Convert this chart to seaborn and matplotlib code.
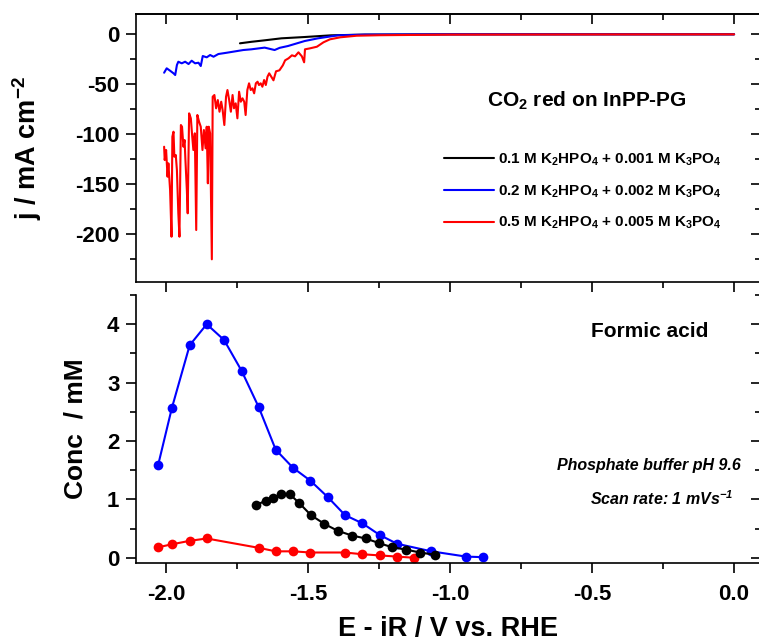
import matplotlib
matplotlib.use("Agg")
import matplotlib.pyplot as plt
from matplotlib.ticker import MultipleLocator
import seaborn as sns

# ── data: current density (top panel) ───────────────────────────────────────
black_E = [-1.74, -1.70, -1.653, -1.594, -1.512, -1.419, -1.30, -1.0, -0.5, 0.0]
black_j = [-9, -7.5, -6, -4, -2.7, -1, -0.3, 0, 0, 0]

blue_E = [-2.007, -1.998, -1.986, -1.974, -1.968, -1.962, -1.957, -1.945, -1.933,
          -1.921, -1.910, -1.898, -1.886, -1.878, -1.871, -1.857, -1.845, -1.833,
          -1.816, -1.786, -1.728, -1.70, -1.653, -1.618, -1.60, -1.571, -1.512,
          -1.465, -1.395, -1.30, -1.0, -0.5, 0.0]
blue_j = [-38.4, -34, -36.4, -39, -40.7, -30.7, -27.4, -29, -27.4,
          -29.7, -26.4, -29, -28.4, -31.7, -21.7, -23, -20.7, -22.4,
          -19.7, -18.4, -15.7, -15, -13.3, -15.7, -13.5, -11.7, -6.7,
          -4, -1, -0.3, 0, 0, 0]

red_E = [-2.007, -2.005, -2.000, -1.995, -1.992, -1.986, -1.981, -1.978, -1.974,
         -1.971, -1.966, -1.962, -1.957, -1.953, -1.948, -1.944, -1.939, -1.935,
         -1.932, -1.927, -1.924, -1.919, -1.913, -1.908, -1.904, -1.899, -1.894,
         -1.890, -1.884, -1.878, -1.872, -1.867, -1.861, -1.857, -1.853, -1.850,
         -1.845, -1.839, -1.836, -1.830, -1.824, -1.818, -1.812, -1.806, -1.801,
         -1.795, -1.789, -1.784, -1.778, -1.772, -1.766, -1.761, -1.755, -1.749,
         -1.743, -1.737, -1.731, -1.725, -1.720, -1.714, -1.708, -1.702, -1.696,
         -1.690, -1.684, -1.678, -1.673, -1.667, -1.661, -1.655, -1.649, -1.643,
         -1.637, -1.622, -1.613, -1.601, -1.589, -1.581, -1.569, -1.557, -1.546,
         -1.534, -1.522, -1.514, -1.511, -1.493, -1.469, -1.446, -1.423, -1.387,
         -1.329, -1.246, -1.0, -0.5, 0.0]
red_j = [-112.4, -125.7, -115.7, -142.4, -129, -155.7, -202.4, -102.4, -97.4,
         -122.4, -120.7, -135.7, -179, -202.4, -90.7, -92.4, -112.4, -105.7,
         -125.7, -155.7, -179, -79, -84, -102.4, -115.7, -99, -195.7,
         -80.7, -87.4, -92.4, -115.7, -95.7, -114, -92.4, -149, -92.4,
         -99, -225, -62.4, -60.7, -74, -65.7, -77.4, -67.4, -75.7,
         -90.7, -62.4, -55.7, -65.7, -77.4, -60.7, -74, -69, -84,
         -57.4, -67.4, -64, -67.4, -80.7, -55.7, -49, -55.7, -54,
         -59, -49, -47.4, -50.7, -49, -52.4, -45.7, -50.7, -42.4,
         -39, -46, -37, -36, -31, -26, -24, -21, -22,
         -18, -22, -28, -15, -14, -12.4, -8, -5, -3,
         -1.4, -0.9, -0.3, -0.1, 0]

# ── data: formic acid concentration (bottom panel) ──────────────────────────
blue_fa_E = [-2.028, -1.980, -1.917, -1.857, -1.796, -1.734, -1.674, -1.614, -1.553,
             -1.492, -1.431, -1.370, -1.309, -1.248, -1.187, -1.066, -0.944, -0.883]
blue_fa = [1.59, 2.56, 3.64, 4.00, 3.73, 3.20, 2.58, 1.85, 1.54,
           1.32, 1.04, 0.73, 0.59, 0.39, 0.24, 0.11, 0.02, 0.01]

black_fa_E = [-1.682, -1.650, -1.624, -1.594, -1.565, -1.532, -1.490, -1.443,
              -1.395, -1.345, -1.297, -1.250, -1.204, -1.156, -1.106, -1.052]
black_fa = [0.90, 0.98, 1.02, 1.09, 1.09, 0.94, 0.73, 0.58,
            0.46, 0.38, 0.33, 0.25, 0.18, 0.14, 0.09, 0.05]

red_fa_E = [-2.028, -1.980, -1.917, -1.857, -1.674, -1.614, -1.553, -1.492,
            -1.370, -1.309, -1.248, -1.187, -1.127]
red_fa = [0.18, 0.23, 0.29, 0.33, 0.17, 0.11, 0.11, 0.09,
          0.09, 0.06, 0.04, 0.02, 0.0]

legend_labels = [
    r"0.1 M K$_2$HPO$_4$ + 0.001 M K$_3$PO$_4$",
    r"0.2 M K$_2$HPO$_4$ + 0.002 M K$_3$PO$_4$",
    r"0.5 M K$_2$HPO$_4$ + 0.005 M K$_3$PO$_4$",
]

# ── style ───────────────────────────────────────────────────────────────────
sns.set_style("ticks")
plt.rcParams["font.family"] = ["Liberation Sans", "DejaVu Sans"]
plt.rcParams["font.weight"] = "bold"
plt.rcParams["axes.labelweight"] = "bold"
plt.rcParams["mathtext.default"] = "regular"
plt.rcParams["axes.unicode_minus"] = False
plt.rcParams["axes.linewidth"] = 1.2
for key in ["axes.edgecolor", "text.color", "axes.labelcolor",
            "xtick.color", "ytick.color"]:
    plt.rcParams[key] = "black"

fig = plt.figure(figsize=(7.59, 6.43), dpi=100)
ax1 = fig.add_axes([0.1792, 0.5614, 0.8228, 0.4168])
ax2 = fig.add_axes([0.1792, 0.1244, 0.8228, 0.4168])

# ── top panel ───────────────────────────────────────────────────────────────
sns.lineplot(x=black_E, y=black_j, ax=ax1, color="black", lw=1.5, sort=False,
             estimator=None, label=legend_labels[0])
sns.lineplot(x=blue_E, y=blue_j, ax=ax1, color="#0000ff", lw=1.5, sort=False,
             estimator=None, label=legend_labels[1])
sns.lineplot(x=red_E, y=red_j, ax=ax1, color="#ff0000", lw=1.5, sort=False,
             estimator=None, label=legend_labels[2])

ax1.set_xlim(-2.106, 0.093)
ax1.set_ylim(-247.7, 20.3)
ax1.yaxis.set_major_locator(MultipleLocator(50))
ax1.yaxis.set_minor_locator(MultipleLocator(25))
ax1.set_xlabel("")
ax1.tick_params(axis="x", labelbottom=False)
ax1.set_ylabel(r"j / mA cm$^{-2}$", fontsize=19.5)
ax1.yaxis.set_label_coords(-0.147, 0.5)

ax1.legend(loc="upper left", bbox_to_anchor=(0.493, 0.487), frameon=False,
           fontsize=11, handlelength=3.3, handletextpad=0.25, labelspacing=1.0,
           borderpad=0, borderaxespad=0)
ax1.text(0.722, 0.653, r"CO$_2$ red on InPP-PG", transform=ax1.transAxes,
         ha="center", va="baseline", fontsize=15, fontweight="bold")

# ── bottom panel ────────────────────────────────────────────────────────────
for E, c, col in [(red_fa_E, red_fa, "#ff0000"),
                  (blue_fa_E, blue_fa, "#0000ff"),
                  (black_fa_E, black_fa, "black")]:
    sns.lineplot(x=E, y=c, ax=ax2, color=col, lw=1.5, marker="o", markersize=7,
                 markeredgewidth=0, sort=False, estimator=None)

ax2.set_xlim(-2.106, 0.093)
ax2.set_ylim(-0.09, 4.5)
ax2.yaxis.set_major_locator(MultipleLocator(1))
ax2.yaxis.set_minor_locator(MultipleLocator(0.5))
ax2.spines["top"].set_visible(False)
ax2.set_ylabel("Conc  / mM", fontsize=19)
ax2.yaxis.set_label_coords(-0.078, 0.5)
ax2.set_xlabel("E - iR / V vs. RHE", fontsize=19.5)
ax2.xaxis.set_label_coords(0.5, -0.198)

ax2.text(0.823, 0.843, "Formic acid", transform=ax2.transAxes,
         ha="center", va="baseline", fontsize=15, fontweight="bold")
ax2.text(0.968, 0.347, "Phosphate buffer pH 9.6", transform=ax2.transAxes,
         ha="right", va="baseline", fontsize=11.5, fontweight="bold", style="italic")
ax2.text(0.9566, 0.216, r"Scan rate: 1 mVs$^{-1}$", transform=ax2.transAxes,
         ha="right", va="baseline", fontsize=11.5, fontweight="bold", style="italic")

# ── ticks: outward on left/bottom, inward mirrors on top/right ──────────────
for ax in (ax1, ax2):
    ax.xaxis.set_major_locator(MultipleLocator(0.5))
    ax.xaxis.set_minor_locator(MultipleLocator(0.25))
    ax.tick_params(which="both", direction="out", top=False, right=False,
                   width=1.2, labelsize=16, pad=5)
    ax.tick_params(which="major", length=7)
    ax.tick_params(which="minor", length=4)
    for lab in ax.get_xticklabels() + ax.get_yticklabels():
        lab.set_fontweight("bold")
    sec_y = ax.secondary_yaxis("right")
    sec_y.yaxis.set_major_locator(ax.yaxis.get_major_locator())
    sec_y.yaxis.set_minor_locator(ax.yaxis.get_minor_locator())
    sec_y.tick_params(which="both", direction="in", labelright=False, width=1.2)
    sec_y.tick_params(which="major", length=7)
    sec_y.tick_params(which="minor", length=4)

ax2.tick_params(axis="x", pad=8)

sec_x = ax1.secondary_xaxis("top")
sec_x.xaxis.set_major_locator(MultipleLocator(0.5))
sec_x.xaxis.set_minor_locator(MultipleLocator(0.25))
sec_x.tick_params(which="both", direction="in", labeltop=False, width=1.2)
sec_x.tick_params(which="major", length=7)
sec_x.tick_params(which="minor", length=4)

fig.savefig("out.png", dpi=100)
